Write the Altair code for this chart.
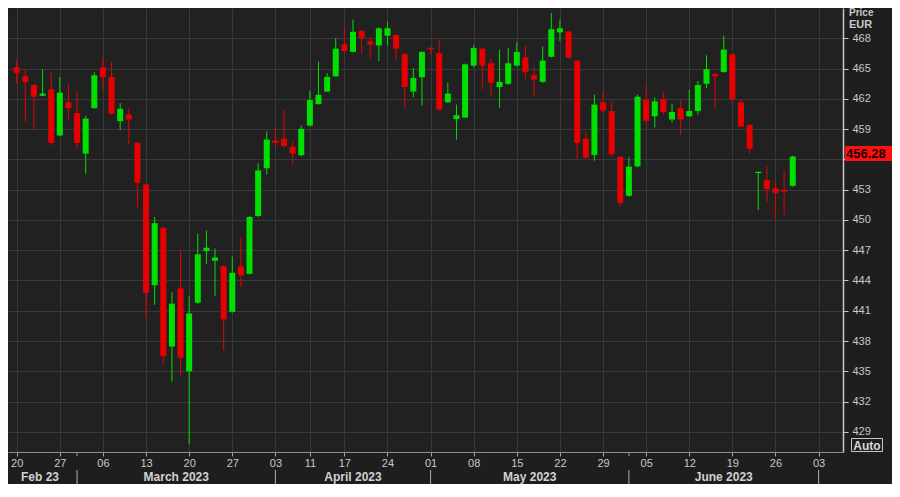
import altair as alt
import pandas as pd

# ---- data (one candle per trading day from 20 Feb 2023) ----
opens = [465.13, 464.23, 463.37, 462.30, 462.94, 458.37, 461.66, 460.59, 456.57, 461.08,
         465.13, 464.17, 459.79, 460.43, 457.63, 453.52, 443.53, 449.23, 437.45, 443.21,
         435.00, 441.79, 446.91, 445.95, 445.40, 440.89, 445.40, 444.66, 450.39, 455.12,
         457.86, 458.05, 457.24, 456.41, 459.34, 461.49, 462.72, 464.23, 467.38, 466.65,
         468.73, 467.71, 467.29, 468.25, 468.32, 466.42, 462.72, 464.14, 467.06, 466.55,
         461.66, 459.99, 460.14, 465.30, 466.97, 465.52, 463.17, 463.49, 465.30, 466.10,
         464.33, 463.68, 466.17, 468.58, 468.68, 465.78, 458.05, 456.44, 461.66, 460.79,
         456.25, 452.39, 455.31, 461.88, 460.27, 461.97, 459.95, 461.08, 460.27, 460.79,
         463.49, 464.46, 464.65, 466.42, 461.66, 459.41, 454.64, 453.93, 453.13, 452.97,
         453.38]
highs = [465.84, 464.87, 463.45, 464.94, 464.62, 464.17, 463.49, 462.79, 460.30, 464.62,
         466.10, 465.68, 461.56, 461.01, 457.70, 453.55, 450.29, 449.30, 442.83, 447.01,
         442.44, 448.62, 448.94, 447.17, 445.50, 446.37, 448.30, 450.40, 455.60, 458.76,
         459.15, 460.95, 457.79, 459.34, 462.79, 465.68, 464.55, 468.00, 468.99, 469.86,
         468.80, 468.10, 469.10, 469.64, 468.40, 466.50, 465.04, 466.70, 467.10, 467.84,
         463.59, 461.43, 465.50, 467.29, 467.00, 466.00, 466.87, 467.06, 467.61, 467.23,
         465.13, 467.19, 470.51, 469.86, 468.75, 465.85, 458.76, 462.40, 462.69, 461.75,
         456.30, 456.25, 462.40, 463.27, 462.14, 462.62, 461.49, 461.82, 462.88, 463.75,
         466.32, 464.60, 468.25, 466.50, 461.92, 459.50, 454.80, 455.31, 453.77, 454.90,
         456.35]
lows = [463.52, 459.72, 458.92, 462.25, 457.41, 458.30, 459.99, 456.99, 454.58, 461.00,
        462.88, 460.40, 458.92, 457.53, 451.20, 440.25, 441.60, 435.75, 433.97, 434.62,
        427.76, 441.70, 445.63, 442.44, 437.03, 440.80, 443.38, 444.60, 450.30, 454.51,
        457.15, 457.15, 455.54, 456.30, 459.30, 461.40, 462.70, 464.20, 466.58, 466.60,
        466.48, 466.00, 465.74, 467.29, 465.90, 461.11, 462.14, 461.34, 466.42, 460.79,
        461.60, 457.96, 460.10, 465.13, 462.94, 462.24, 461.11, 463.40, 465.20, 463.97,
        462.21, 463.60, 466.10, 467.71, 466.00, 456.03, 456.03, 455.86, 460.59, 456.28,
        451.29, 452.30, 455.20, 459.50, 459.17, 460.43, 459.66, 458.44, 460.20, 460.43,
        463.04, 461.01, 464.60, 461.59, 459.20, 456.57, 450.97, 451.78, 450.07, 450.48,
        453.30]
closes = [464.55, 463.68, 462.21, 462.52, 457.63, 462.62, 461.07, 457.63, 460.04, 464.33,
          464.14, 460.53, 461.01, 459.95, 453.69, 442.76, 449.68, 436.48, 441.70, 436.33,
          440.73, 446.59, 447.24, 446.27, 440.15, 444.76, 444.50, 450.29, 454.90, 457.96,
          457.63, 457.31, 456.57, 459.02, 461.88, 462.40, 464.17, 466.97, 466.74, 468.64,
          468.03, 467.38, 468.99, 468.99, 466.97, 463.17, 464.07, 466.65, 466.90, 460.95,
          462.52, 460.37, 465.42, 467.03, 465.30, 463.59, 463.68, 465.52, 466.65, 464.65,
          463.91, 465.78, 468.90, 468.99, 466.07, 457.63, 456.18, 461.43, 460.85, 456.51,
          451.68, 455.28, 462.21, 459.82, 461.75, 460.69, 460.69, 459.95, 460.79, 463.37,
          464.94, 464.23, 466.87, 461.97, 459.24, 457.05, 454.77, 453.06, 452.65, 452.80,
          456.28]

# axis ticks (trading-day index of each week's first session) and their day labels
tick_idx = [0, 5, 10, 15, 20, 25, 30, 34, 38, 43, 48, 53, 58, 63, 68, 73, 78, 83, 88, 93]
tick_lbl = ["20", "27", "06", "13", "20", "27", "03", "11", "17", "24",
            "01", "08", "15", "22", "29", "05", "12", "19", "26", "03"]
month_lbl = ["Feb 23", "March 2023", "April 2023", "May 2023", "June 2023"]
month_pos = [2.7, 18.5, 39, 59.5, 82]
month_sep = [7, 30, 48, 71, 93]
month_tick = [7, 71]
y_ticks = list(range(429, 469, 3))
last_price = 456.28

# ---- layout (whole chart fits inside the page's 8px margins) ----
W, H = 835, 444
RIGHT, BOTTOM = 49, 32
XDOM = [-0.43, 95.25]
YDOM = [427.0, 471.0]
BG = "#1e1e1e"
GRID = "#393939"
TXT = "#c8c8c8"
FONT = "Liberation Sans"
UP, DOWN = "#00ff00", "#ff0000"
UPW, DOWNW = "#00e000", "#e80000"

df = pd.DataFrame({"i": list(range(len(opens))), "open": opens, "high": highs,
                   "low": lows, "close": closes})
df["dir"] = ["up" if c >= o else "down" for o, c in zip(opens, closes)]

label_expr = ("[" + ",".join(f"'{l}'" for l in tick_lbl) + "][indexof(["
              + ",".join(str(v) for v in tick_idx) + "], datum.value)]")

xscale = alt.Scale(domain=XDOM, nice=False, zero=False)
yscale = alt.Scale(domain=YDOM, nice=False, zero=False)

x_axis = alt.Axis(values=tick_idx, labelExpr=label_expr, grid=True, gridColor=GRID,
                  gridWidth=1, domainColor="#8c8c8c", domainWidth=1, tickColor="#a0a0a0",
                  tickSize=4, labelColor=TXT, labelFont=FONT, labelFontSize=11,
                  labelPadding=1, labelFlush=False, labelOverlap=False, title=None,
                  orient="bottom")
# the 456 label sits under the last-price box
y_axis = alt.Axis(values=y_ticks, orient="right", grid=True, gridColor=GRID, gridWidth=1,
                  domainColor="#c8c8c8", domainWidth=1.5, tickColor="#c8c8c8", tickSize=5,
                  labelColor=TXT, labelFont=FONT, labelFontSize=11, labelPadding=4,
                  labelFlush=False, labelExpr="datum.value == 456 ? '' : datum.label",
                  title=None)


def X(field):
    return alt.X(field, scale=xscale, axis=x_axis)


def Y(field):
    return alt.Y(field, scale=yscale, axis=y_axis)


dir_color_w = alt.Color("dir:N", scale=alt.Scale(domain=["up", "down"], range=[UPW, DOWNW]),
                        legend=None)
dir_color = alt.Color("dir:N", scale=alt.Scale(domain=["up", "down"], range=[UP, DOWN]),
                      legend=None)

base = alt.Chart(df)
wicks = base.mark_rule(strokeWidth=1).encode(
    x=X("i:Q"), y=Y("low:Q"), y2="high:Q", color=dir_color_w,
)
bodies = base.mark_bar(size=6).encode(
    x=X("i:Q"), y=Y("open:Q"), y2="close:Q", color=dir_color,
)

months = pd.DataFrame({"i": month_pos, "m": month_lbl})
month_text = alt.Chart(months).mark_text(font=FONT, fontSize=12, fontWeight="bold",
                                         color="#d2d2d2", baseline="middle").encode(
    x=X("i:Q"), y=alt.value(H + 25), text="m:N",
)
seps = alt.Chart(pd.DataFrame({"i": month_sep})).mark_rule(color="#b0b0b0", strokeWidth=1).encode(
    x=X("i:Q"), y=alt.value(H + 18), y2=alt.value(H + BOTTOM),
)
mticks = alt.Chart(pd.DataFrame({"i": month_tick})).mark_rule(color="#a0a0a0", strokeWidth=1).encode(
    x=X("i:Q"), y=alt.value(H + 1), y2=alt.value(H + 4),
)

pdf = pd.DataFrame({"p": [last_price], "t": [f"{last_price:.2f}"]})
price_box = alt.Chart(pdf).mark_rule(color="#ff1010", strokeWidth=15, yOffset=-3,
                                     strokeCap="butt").encode(
    x=alt.value(W + 2), x2=alt.value(W + RIGHT), y=Y("p:Q"),
)
price_txt = alt.Chart(pdf).mark_text(font=FONT, fontSize=13, fontWeight="bold",
                                     color="#1a0000", align="left", baseline="middle",
                                     yOffset=-3).encode(
    x=alt.value(W + 3), y=Y("p:Q"), text="t:N",
)

price_hdr = alt.Chart(pd.DataFrame({"t": ["Price"]})).mark_text(
    font=FONT, fontSize=10, fontWeight="bold", color=TXT, align="left", baseline="middle"
).encode(x=alt.value(W + 6), y=alt.value(5), text="t:N")
eur_hdr = alt.Chart(pd.DataFrame({"t": ["EUR"]})).mark_text(
    font=FONT, fontSize=11, fontWeight="bold", color=TXT, align="left", baseline="middle"
).encode(x=alt.value(W + 6), y=alt.value(17), text="t:N")

auto_box = alt.Chart(pd.DataFrame({"t": ["Auto"]})).mark_rect(
    fill=BG, stroke="#c8c8c8", strokeWidth=1
).encode(x=alt.value(W + 8.5), x2=alt.value(W + 39.5), y=alt.value(H - 13.5), y2=alt.value(H - 0.5))
auto_txt = alt.Chart(pd.DataFrame({"t": ["Auto"]})).mark_text(
    font=FONT, fontSize=12, fontWeight="bold", color="#d8d8d8", align="center", baseline="middle"
).encode(x=alt.value(W + 24), y=alt.value(H - 6.5), text="t:N")

chart = alt.layer(
    wicks, bodies, month_text, seps, mticks, price_box, price_txt,
    price_hdr, eur_hdr, auto_box, auto_txt
).properties(
    width=W, height=H,
    autosize=alt.AutoSizeParams(type="none"),
    padding={"left": 0, "top": 0, "right": RIGHT, "bottom": BOTTOM},
    background=BG,
).configure_view(fill="#212121", stroke="transparent")

chart.save("out.html", embed_options={"renderer": "svg", "actions": False})
